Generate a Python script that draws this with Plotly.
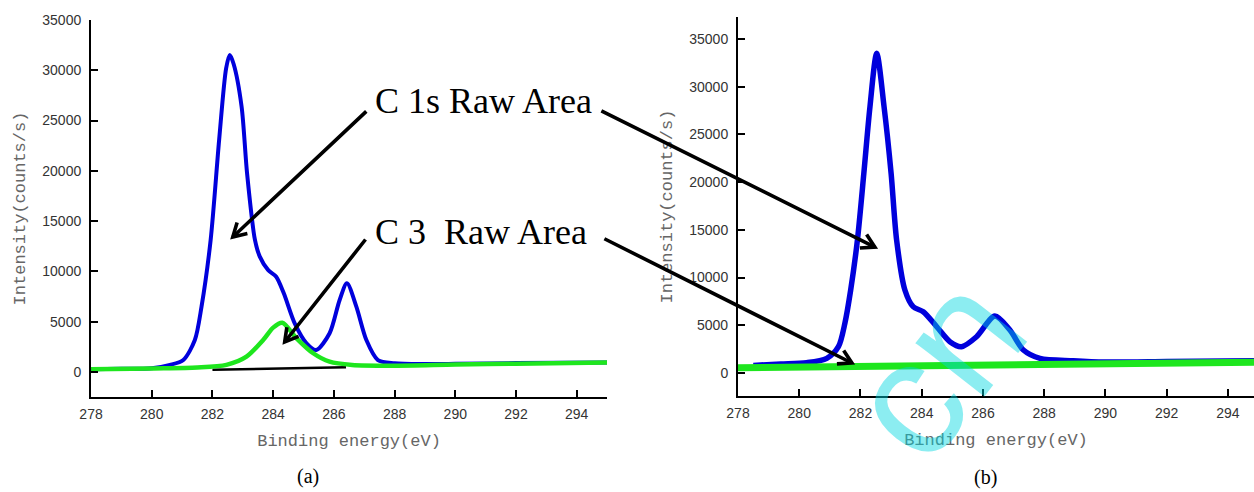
import math
import plotly.graph_objects as go

# ---------------- data ----------------
# Panel (a)
a_raw_x = [278, 279, 280, 280.6, 281.04, 281.42, 281.64, 281.94, 282.22, 282.45, 282.57, 282.7,
           282.96, 283.14, 283.4, 283.56, 283.83, 284.1, 284.35, 284.71, 285.1, 285.42, 285.86,
           286.19, 286.43, 286.74, 287.07, 287.45, 288, 289, 290, 292, 295]
a_raw_y = [260, 300, 360, 690, 1180, 3170, 6490, 13120, 23060, 30200, 31520, 30600,
           26380, 19750, 13120, 11460, 10140, 9470, 7820, 4830, 2845, 2180, 3840,
           7150, 8810, 6490, 3170, 1180, 860, 780, 800, 870, 930]
a_c3_x = [278, 280, 281.5, 282.46, 283.12, 283.67, 284.0, 284.3, 284.77, 285.32, 285.86,
          286.6, 288, 290, 292, 295]
a_c3_y = [260, 340, 430, 690, 1510, 3170, 4400, 4890, 3340, 1850, 1010,
          690, 620, 730, 810, 930]
a_bg_x = [282.0, 286.4]
a_bg_y = [200, 450]

# Panel (b)
b_raw_x = [278.5, 279.4, 280.24, 280.9, 281.28, 281.49, 281.68, 281.9, 282.11, 282.31, 282.53,
           282.77, 283.0, 283.18, 283.45, 283.72, 284.05, 284.49, 284.92, 285.3, 285.79,
           286.39, 286.88, 287.32, 287.86, 288.95, 290, 292, 295]
b_raw_y = [800, 940, 1080, 1540, 2760, 5200, 8700, 13940, 20930, 27900, 33500,
           27900, 20930, 13940, 8700, 6950, 6420, 4850, 3280, 2760, 3800,
           5970, 4500, 2410, 1540, 1290, 1150, 1200, 1300]
b_c3_x = [278, 295]
b_c3_y = [560, 1130]

x_ticks = [278, 280, 282, 284, 286, 288, 290, 292, 294]
y_ticks = [0, 5000, 10000, 15000, 20000, 25000, 30000, 35000]

BLUE = "#0000dc"
GREEN = "#1ee61e"

fig = go.Figure()
fig.add_trace(go.Scatter(x=a_raw_x, y=a_raw_y, mode="lines", xaxis="x", yaxis="y",
                         line=dict(color=BLUE, width=4, shape="spline", smoothing=0.8)))
fig.add_trace(go.Scatter(x=a_bg_x, y=a_bg_y, mode="lines", xaxis="x", yaxis="y",
                         line=dict(color="black", width=2.5)))
fig.add_trace(go.Scatter(x=a_c3_x, y=a_c3_y, mode="lines", xaxis="x", yaxis="y",
                         line=dict(color=GREEN, width=4.5, shape="spline", smoothing=0.8)))
fig.add_trace(go.Scatter(x=b_raw_x, y=b_raw_y, mode="lines", xaxis="x2", yaxis="y2",
                         line=dict(color=BLUE, width=5.5, shape="spline", smoothing=0.8)))
fig.add_trace(go.Scatter(x=b_c3_x, y=b_c3_y, mode="lines", xaxis="x2", yaxis="y2",
                         line=dict(color=GREEN, width=7)))

tickfont = dict(family="Liberation Sans, Arial", size=14, color="#333")
titlefont = dict(family="Liberation Mono, monospace", size=17, color="#666")

common_x = dict(range=[278, 295], tickvals=x_ticks, ticks="inside", ticklen=7, tickwidth=1.5,
                tickcolor="black", showline=True, linecolor="black", linewidth=2,
                showgrid=False, zeroline=False, tickfont=tickfont, automargin=False,
                ticklabelstandoff=3)
common_y = dict(tickvals=y_ticks, tickformat="d", ticks="inside", ticklen=7, tickwidth=1.5,
                tickcolor="black", showline=True, linecolor="black", linewidth=2,
                showgrid=False, zeroline=False, tickfont=tickfont, automargin=False,
                ticklabelstandoff=5)

fig.update_layout(
    width=1254, height=492,
    margin=dict(l=0, r=0, t=0, b=0),
    paper_bgcolor="white", plot_bgcolor="white",
    showlegend=False,
    xaxis=dict(common_x, domain=[0.0726, 0.4841], anchor="y",
               title=dict(text="Binding energy(eV)", font=titlefont, standoff=13)),
    yaxis=dict(common_y, domain=[0.1931, 0.9593], range=[-2500, 35000], anchor="x",
               title=dict(text="Intensity(counts/s)", font=titlefont, standoff=12)),
    xaxis2=dict(common_x, domain=[0.5885, 1.0], range=[278, 294.85], anchor="y2",
                title=dict(text="Binding energy(eV)", font=titlefont, standoff=13)),
    yaxis2=dict(common_y, domain=[0.1951, 0.9654], range=[-2410, 37300], anchor="x2",
                title=dict(text="Intensity(counts/s)", font=titlefont, standoff=12)),
)


def add_arrow(xref, yref, tip_x, tip_y, tail_dx, tail_dy, arm=15, half_angle=30):
    """Arrow shaft as an annotation line, open chevron head as a pixel-sized path
    anchored at the tip (tail_dx right-positive, tail_dy up-positive, in px)."""
    fig.add_annotation(x=tip_x, y=tip_y, xref=xref, yref=yref, text="",
                       showarrow=True, arrowhead=0, arrowwidth=3.6, arrowcolor="black",
                       axref="pixel", ayref="pixel", ax=tail_dx, ay=-tail_dy, standoff=0)
    L = math.hypot(tail_dx, tail_dy)
    ux, uy = tail_dx / L, tail_dy / L
    arms = []
    for s in (1, -1):
        a = math.radians(half_angle) * s
        rx = ux * math.cos(a) - uy * math.sin(a)
        ry = ux * math.sin(a) + uy * math.cos(a)
        arms.append((rx * arm, ry * arm))
    path = (f"M{arms[0][0]:.2f},{arms[0][1]:.2f} L0,0 L{arms[1][0]:.2f},{arms[1][1]:.2f}")
    fig.add_shape(type="path", path=path, xref=xref, yref=yref,
                  xsizemode="pixel", ysizemode="pixel", xanchor=tip_x, yanchor=tip_y,
                  line=dict(color="black", width=3.6), layer="above")


add_arrow("x", "y", 282.67, 13420, 135, 127)
add_arrow("x", "y", 284.38, 2970, 82, 104)
add_arrow("x2", "y2", 282.47, 13200, -275, 137)
add_arrow("x2", "y2", 281.72, 1050, -249, 125)

label_font = dict(family="Liberation Serif, Times New Roman, serif", size=36, color="black")
fig.add_annotation(text="C 1s Raw Area", x=0.3852, y=0.7947, xref="paper", yref="paper",
                   showarrow=False, font=label_font, xanchor="center", yanchor="middle",
                   bgcolor="white")
fig.add_annotation(text="C 3\u00a0 Raw Area", x=0.3836, y=0.5285, xref="paper", yref="paper",
                   showarrow=False, font=label_font, xanchor="center", yanchor="middle",
                   bgcolor="white")

panel_font = dict(family="Liberation Serif, Times New Roman, serif", size=20, color="black")
fig.add_annotation(text="(a)", x=0.2456, y=0.0305, xref="paper", yref="paper",
                   xanchor="center", yanchor="middle", showarrow=False, font=panel_font)
fig.add_annotation(text="(b)", x=0.7855, y=0.0285, xref="paper", yref="paper",
                   xanchor="center", yanchor="middle", showarrow=False, font=panel_font)

# watermark
fig.add_annotation(text="cn", x=0.7456, y=0.2541, xref="paper", yref="paper", showarrow=False,
                   xanchor="center", yanchor="middle",
                   textangle=-52, font=dict(family="Liberation Sans, Arial", size=165,
                                            color="rgba(0,215,225,0.45)"))

fig.write_html("out.html", config={"displayModeBar": False},
               post_script="document.body.style.margin='0px';")
